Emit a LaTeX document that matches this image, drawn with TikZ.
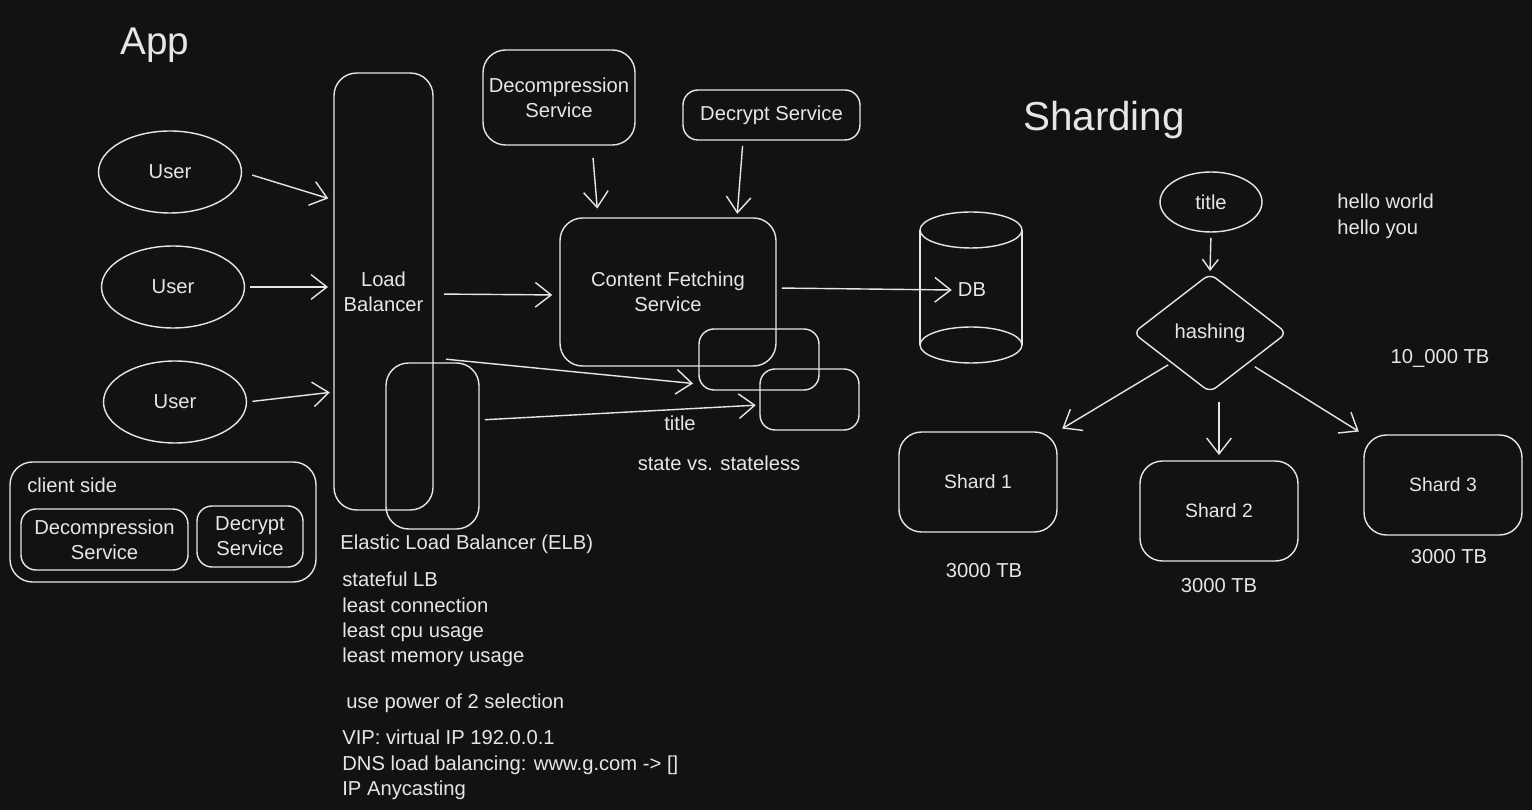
\documentclass[tikz,border=0pt]{standalone}
\usepackage{fontspec}
\setmainfont{Liberation Sans}
\usetikzlibrary{shapes.geometric,arrows.meta}
\definecolor{bgc}{HTML}{121212}
\definecolor{ink}{HTML}{E6E6E6}

\begin{document}
\begin{tikzpicture}[x=0.02cm,y=-0.02cm,
    every node/.style={text=ink,font=\fontsize{11.5}{14.3}\selectfont},
    box/.style={draw=ink,line width=0.8pt,rounded corners=0.45cm,align=center,inner sep=0pt},
    smallbox/.style={box,rounded corners=0.3cm},
    user/.style={draw=ink,line width=0.8pt,ellipse,inner sep=0pt,minimum width=2.86cm,minimum height=1.64cm},
    shard/.style={box,minimum width=3.16cm,minimum height=2cm,font=\fontsize{11}{13}\selectfont},
    txt/.style={align=left,inner sep=0pt},
    arr/.style={draw=ink,line width=0.8pt,-{Straight Barb[length=9pt,width=14pt]}},
    arrsmall/.style={arr,-{Straight Barb[length=6pt,width=9pt]}}]
    \useasboundingbox (0,0) rectangle (1532,810);
    \fill[bgc] (0,0) rectangle (1532,810);

    \node[font=\fontsize{22}{26}\selectfont] (apptitle) at (155,45) {App};
    \node[font=\fontsize{23}{26}\selectfont] (shardtitle) at (1104,120) {Sharding};

    \node[user] (u1) at (170,172) {User};
    \node[user] (u2) at (173,287) {User};
    \node[user] (u3) at (175,402) {User};
    \node[box,minimum width=1.98cm,minimum height=8.74cm] (lb) at (383.5,291.5) {Load\\Balancer};
    \node[box,minimum width=1.86cm,minimum height=3.32cm] (elb) at (432.5,446) {};

    \node[box,minimum width=6.12cm,minimum height=2.4cm] (client) at (163,522) {};
    \node[txt,anchor=west] (clientlbl) at (27,485) {client side};
    \node[smallbox,minimum width=3.34cm,minimum height=1.22cm] (cdec) at (104.5,539.5) {Decompression\\Service};
    \node[smallbox,minimum width=2.12cm,minimum height=1.22cm] (ccrypt) at (250,536.5) {Decrypt\\Service};

    \node[box,minimum width=3.04cm,minimum height=1.9cm] (dec) at (559,97.5) {Decompression\\Service};
    \node[smallbox,minimum width=3.54cm,minimum height=1cm] (decr) at (771.5,115) {Decrypt Service};
    \node[box,minimum width=4.32cm,minimum height=2.96cm] (cfs) at (668,292) {Content Fetching\\Service};
    \node[smallbox,minimum width=2.4cm,minimum height=1.22cm] (b1) at (759,359.5) {};
    \node[smallbox,minimum width=1.98cm,minimum height=1.22cm] (b2) at (809.5,399.5) {};

    \draw[ink,line width=0.8pt] (920,230) -- (920,345) (1022,230) -- (1022,345);
    \draw[ink,line width=0.8pt] (971,230) ellipse [x radius=1.02cm,y radius=0.36cm];
    \draw[ink,line width=0.8pt] (971,345) ellipse [x radius=1.02cm,y radius=0.36cm];
    \node (db) at (972,290) {DB};

    \node (titlelbl) at (680,423) {title};
    \node (statelbl) at (719,463) {state vs. stateless};
    \node[txt,anchor=west] (elblbl) at (340,544) {Elastic Load Balancer (ELB)};
    \node[txt,anchor=north west] (lbnotes) at (342,572) {stateful LB\\least connection\\least cpu usage\\least memory usage};
    \node[txt,anchor=north west] (power) at (346,694) {use power of 2 selection};
    \node[txt,anchor=north west] (vip) at (342,730) {VIP: virtual IP 192.0.0.1\\DNS load balancing: www.g.com -> []\\IP Anycasting};

    \node[user,minimum width=2.04cm,minimum height=1.2cm] (key) at (1211,202) {title};
    \node[draw=ink,line width=0.8pt,diamond,minimum width=3.08cm,minimum height=2.38cm,inner sep=0pt,rounded corners=0.15cm] (hash) at (1210,333) {hashing};
    \node[txt,anchor=north west] (hello) at (1337,194) {hello world\\hello you};
    \node (total) at (1440,358) {10\_000 TB};
    \node[shard] (s1) at (978,482) {Shard 1};
    \node[shard] (s2) at (1219,511) {Shard 2};
    \node[shard] (s3) at (1443,485) {Shard 3};
    \node (cap1) at (984,571) {3000 TB};
    \node (cap2) at (1219,586) {3000 TB};
    \node (cap3) at (1449,557) {3000 TB};

    \draw[arr,shorten <=6pt,shorten >=3pt] (u1.east) -- (lb.west |- 0,200);
    \draw[arr,shorten <=3pt,shorten >=3pt] (u2.east) -- (u2.east -| lb.west);
    \draw[arr,shorten <=3pt,shorten >=2pt] (u3.east) -- (lb.west |- 0,392);
    \draw[arr,shorten <=6pt,shorten >=4pt] (lb.east |- 0,294) -- (cfs.west |- 0,295);
    \draw[arr,shorten <=7pt,shorten >=5pt] (dec.south -| 592,0) -- (cfs.north -| 598,0);
    \draw[arr,shorten <=3pt,shorten >=2pt] (decr.south -| 743,0) -- (cfs.north -| 737,0);
    \draw[arr,shorten <=3pt] (cfs.east |- 0,288) -- (db.west);
    \draw[arr,shorten <=7pt,shorten >=3pt] (lb.east |- 0,358) -- (b1.west |- 0,384);
    \draw[arr,shorten <=3pt,shorten >=2pt] (elb.east |- 0,420) -- (b2.west |- 0,405);
    \draw[arrsmall,shorten <=3pt,shorten >=1pt] (key.south) -- (hash.north);
    \draw[arr,shorten <=2pt,shorten >=3pt] (hash.south west) -- (s1.north east);
    \draw[arr,shorten <=5pt,shorten >=3pt] (s2.north |- hash.south) -- (s2.north);
    \draw[arr,shorten <=4pt,shorten >=3pt] (hash.south east) -- (s3.north west);
\end{tikzpicture}
\end{document}
